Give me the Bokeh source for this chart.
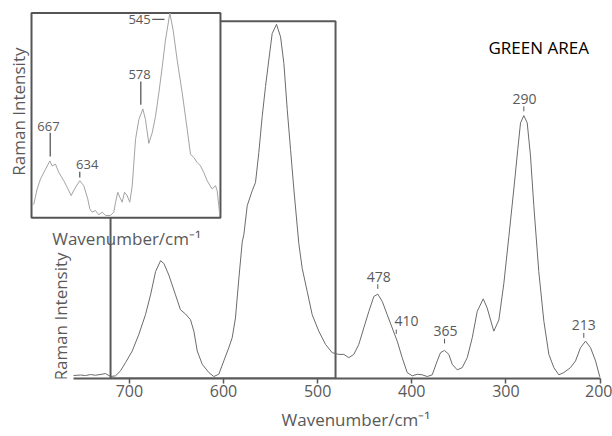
import math
from bokeh.plotting import figure
from bokeh.models import Range1d, FixedTicker, Title
from bokeh.core.properties import value
from bokeh.embed import file_html
from bokeh.resources import INLINE

# ---- data ----
main_wavenumber = [759.3, 751.9, 746.6, 741.3, 736.0, 728.9, 725.3, 720.0, 714.7, 709.4,
                   704.1, 697.0, 690.0, 682.9, 677.5, 672.2, 666.9, 663.4, 658.1, 651.0,
                   645.7, 640.4, 635.1, 631.5, 627.9, 622.6, 615.6, 610.3, 605.0, 599.7,
                   594.4, 590.8, 587.3, 583.7, 580.1, 578.4, 574.8, 569.5, 566.0, 562.5,
                   558.9, 555.4, 551.9, 548.3, 543.7, 539.4, 535.9, 532.3, 528.8, 525.3,
                   520.0, 516.4, 511.1, 505.8, 498.8, 491.6, 484.5, 477.5, 472.2, 466.9,
                   461.6, 456.3, 451.0, 445.6, 440.3, 436.1, 431.4, 426.1, 420.8, 415.5,
                   410.2, 404.9, 399.5, 394.2, 388.9, 383.6, 378.3, 373.0, 369.5, 365.2,
                   360.7, 357.0, 351.7, 346.4, 341.1, 335.8, 330.5, 324.1, 319.9, 312.9,
                   307.5, 302.2, 296.9, 291.6, 287.4, 284.5, 281.0, 277.4, 273.9, 270.4,
                   265.1, 259.7, 254.4, 249.1, 243.8, 238.5, 231.4, 226.1, 220.8, 215.4,
                   210.1, 204.8, 200.3]
main_intensity = [3, 3.5, 3, 4, 3.3, 4.3, 5, 2, 2.7, 7.7,
                  16, 27.7, 44.3, 64.3, 84.3, 107.7, 118.7, 116, 104.3, 84.3,
                  69.3, 65, 59.3, 47.7, 27.7, 14.3, 6, 2, 4.3, 17.7,
                  31, 41, 61, 101, 137.7, 145, 174.3, 189.3, 197.7, 227.7,
                  264.3, 294.3, 321, 347.7, 357, 344.3, 317.7, 271, 231, 191,
                  136, 111, 87.7, 64.3, 47.7, 34.3, 26, 24.3, 24.3, 21,
                  24.3, 34.3, 51, 67.7, 82.7, 85, 77.7, 64.3, 51, 37.7,
                  21, 6, 2.7, 4.3, 3.7, 2, 3.7, 17.7, 26, 28.3,
                  24.3, 14.3, 8.7, 11, 21, 41, 67.7, 80.3, 71, 47.7,
                  59, 96, 143, 191, 231, 257.7, 265, 257.7, 224.3, 174.3,
                  107.7, 57.7, 24.3, 11, 3.7, 6, 11, 17.7, 31, 37.7,
                  31, 17.7, 1.7]

inset_wavenumber = [685.8, 684.1, 680.7, 677.3, 672.1, 667.7, 665.3, 661.9, 658.5, 653.4,
                    649.9, 645.8, 642.4, 637.0, 632.9, 628.8, 626.7, 624.3, 620.9, 617.5,
                    614.0, 610.6, 605.5, 602.1, 600.3, 598.0, 595.9, 593.5, 591.1, 588.4,
                    585.7, 583.2, 579.8, 576.4, 572.3, 569.6, 566.2, 562.7, 559.3, 555.9,
                    552.4, 549.1, 544.6, 541.2, 537.1, 531.9, 526.8, 523.4, 520.0, 516.5,
                    513.2, 509.8, 506.3, 501.2, 497.8, 496.1, 494.4, 493.4]
inset_intensity = [40, 45, 90, 120, 150, 175, 160, 165, 140, 115,
                   95, 70, 90, 115, 100, 60, 30, 20, 25, 12,
                   20, 10, 10, 20, 50, 80, 65, 50, 80, 70,
                   50, 100, 240, 300, 332, 300, 228, 260, 310, 380,
                   460, 540, 622, 570, 480, 380, 270, 195, 185, 170,
                   160, 140, 115, 90, 100, 85, 40, 10]

x_ticks = [200, 300, 400, 500, 600, 700]
main_peak_labels = ["478", "410", "365", "290", "213"]
inset_peak_labels = ["667", "634", "578", "545"]
axis_title = "Wavenumber/cm\u207b\u00b9"
y_title = "Raman Intensity"
area_title = "GREEN AREA"

TEXT = "#595959"
FONT = "Open Sans"

p = figure(width=612, height=436, output_backend="svg", toolbar_location=None,
           x_range=Range1d(836.9, 186.8), y_range=Range1d(0, 381),
           y_axis_location=None,
           min_border_left=0, min_border_right=0, min_border_top=0, min_border_bottom=55)
p.outline_line_color = None
p.grid.visible = False
p.background_fill_color = "white"
p.border_fill_color = "white"

p.extra_x_ranges = {"ix": Range1d(718.3, 90.6)}
p.extra_y_ranges = {"iy": Range1d(-483, 660)}

ax = p.xaxis[0]
ax.ticker = FixedTicker(ticks=x_ticks)
ax.bounds = (200, 759.3)
ax.axis_line_color = TEXT
ax.axis_line_width = 2
ax.major_tick_line_color = TEXT
ax.major_tick_line_width = 1.5
ax.major_tick_out = 5
ax.major_tick_in = 0
ax.minor_tick_line_color = None
ax.major_label_text_font = FONT
ax.major_label_text_font_size = "16px"
ax.major_label_text_color = TEXT
ax.major_label_standoff = 1

# x-axis title, placed below the axis
p.add_layout(Title(text=axis_title, align="left", offset=281, standoff=12,
                   text_font=FONT, text_font_size="17px", text_font_style="normal",
                   text_color=TEXT), "below")

# zoom rectangle in main plot
p.quad(left=720.0, right=481.0, bottom=0, top=360, fill_color=None,
       line_color="#5a5a5a", line_width=2)

# main spectrum
p.line(main_wavenumber, main_intensity, line_color="#6b6b6b", line_width=1)

# inset box and spectrum
p.quad(left=686.5, right=492.7, bottom=3, top=622.5, fill_color="white",
       line_color="#555555", line_width=2, x_range_name="ix", y_range_name="iy")
p.line(inset_wavenumber, inset_intensity, line_color="#a3a3a3", line_width=1,
       x_range_name="ix", y_range_name="iy")

# main peak labels
p.segment(x0=[436.1, 416.5, 365.2, 281.0, 217.3], y0=[90.3, 45, 35.3, 269.3, 41],
          x1=[436.1, 416.5, 365.2, 281.0, 217.3], y1=[95, 49.3, 40, 274.3, 46],
          line_color=TEXT, line_width=1)
p.text(x=[435.0, 405.6, 364.2, 280.3, 217.3], y=[102.7, 58.3, 48.3, 281.7, 54.3],
       text=main_peak_labels, text_align="center", text_baseline="middle",
       text_font=value(FONT), text_font_size="14px", text_color=TEXT)

# inset peak labels
p.segment(x0=[667.3, 637.0, 574.4, 562.7], y0=[188, 125, 345, 603],
          x1=[667.3, 637.0, 574.4, 550.1], y1=[260, 142, 415, 603],
          line_color=TEXT, line_width=1.3, x_range_name="ix", y_range_name="iy")
p.text(x=[669.1, 629.4, 575.7, 575.7], y=[278, 165, 435, 603],
       text=inset_peak_labels, text_align="center", text_baseline="middle",
       text_font=value(FONT), text_font_size="13px", text_color=TEXT,
       x_range_name="ix", y_range_name="iy")

# y titles (main and inset) and inset x title
p.text(x=[773.2, 817.8], y=[62.5, 269], text=[y_title, y_title], angle=math.pi / 2,
       text_align="center", text_baseline="middle",
       text_font=value(FONT), text_font_size="17px", text_color=TEXT)
p.text(x=[703.0], y=[141], text=[axis_title], text_align="center",
       text_baseline="alphabetic", text_font=value(FONT), text_font_size="17px",
       text_color=TEXT)

p.text(x=[265.2], y=[333.7], text=[area_title], text_align="center", text_baseline="middle",
       text_font=value(FONT), text_font_size="17px", text_color="#000000")

open("out.html", "w").write(file_html(p, INLINE))
